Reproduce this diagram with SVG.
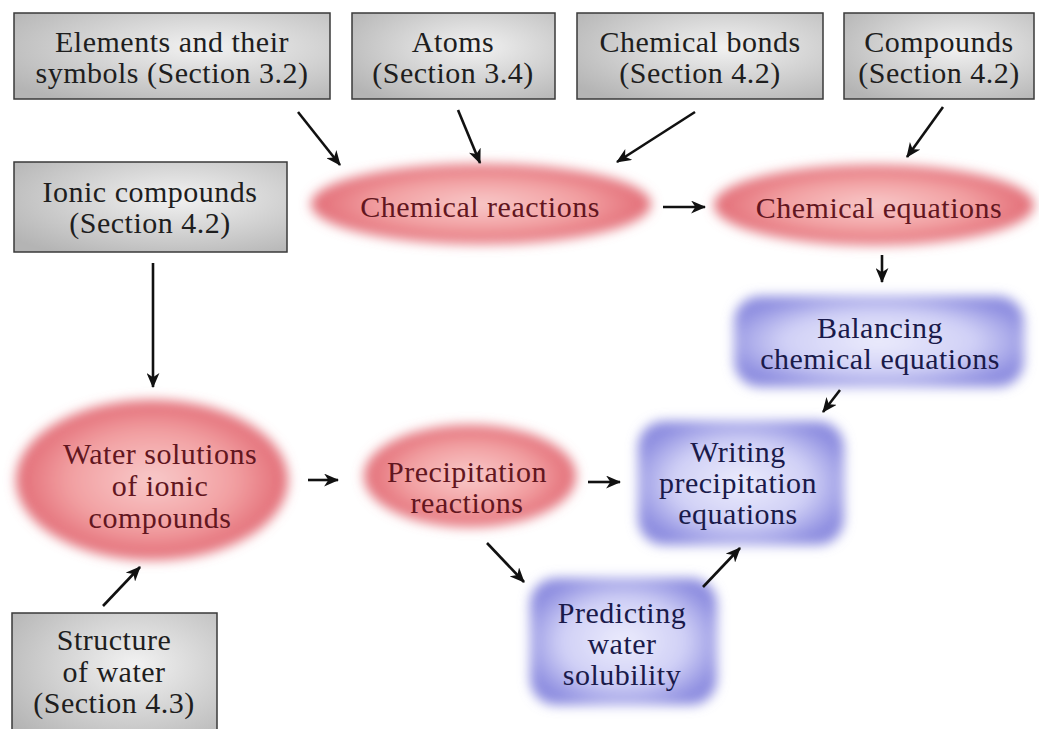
<svg xmlns="http://www.w3.org/2000/svg" width="1039" height="729" viewBox="0 0 1039 729">
  <style>
    text { font-family: "Liberation Serif", "Times New Roman", serif; font-size: 30px; text-anchor: middle; letter-spacing: 0.5px; }
    .gt { fill: #1e1e1e; }
    .rt { fill: #621620; }
    .bt { fill: #1a1a4a; }
    .gbox { fill: url(#gGray); stroke: #3a3a3a; stroke-width: 1.5; }
    .pink { fill: url(#gPink); filter: url(#soft); }
    .blue { fill: url(#gBlue); filter: url(#soft); }
    .arr { stroke: #111; stroke-width: 2.6; fill: none; marker-end: url(#ah); }
  </style>
  <defs>
    <radialGradient id="gGray" cx="0.6" cy="0.4" r="0.75">
      <stop offset="0" stop-color="#f2f2f2"/>
      <stop offset="1" stop-color="#b4b4b4"/>
    </radialGradient>
    <radialGradient id="gPink" cx="0.5" cy="0.5" r="0.5">
      <stop offset="0" stop-color="#f8caca"/>
      <stop offset="0.6" stop-color="#f2a0a2"/>
      <stop offset="1" stop-color="#e26c76"/>
    </radialGradient>
    <radialGradient id="gBlue" cx="0.5" cy="0.5" r="0.55">
      <stop offset="0" stop-color="#ececfc"/>
      <stop offset="0.6" stop-color="#d0d0f6"/>
      <stop offset="1" stop-color="#8e8ee0"/>
    </radialGradient>
    <filter id="soft" x="-20%" y="-30%" width="140%" height="160%">
      <feGaussianBlur stdDeviation="6"/>
    </filter>
    <marker id="ah" viewBox="0 0 14 12" refX="13" refY="6" markerWidth="15" markerHeight="13" orient="auto" markerUnits="userSpaceOnUse">
      <path d="M0,0 L14,6 L0,12 L4,6 z" fill="#111"/>
    </marker>
  </defs>

  <rect width="1039" height="729" fill="#ffffff"/>

  <g id="elements">
    <rect class="gbox" x="14" y="13" width="316" height="86"/>
    <text class="gt" x="172" y="52">Elements and their</text>
    <text class="gt" x="172" y="83">symbols (Section 3.2)</text>
  </g>
  <g id="atoms">
    <rect class="gbox" x="352" y="13" width="203" height="86"/>
    <text class="gt" x="453" y="52">Atoms</text>
    <text class="gt" x="453" y="83">(Section 3.4)</text>
  </g>
  <g id="bonds">
    <rect class="gbox" x="577" y="13" width="246" height="86"/>
    <text class="gt" x="700" y="52">Chemical bonds</text>
    <text class="gt" x="700" y="83">(Section 4.2)</text>
  </g>
  <g id="compounds">
    <rect class="gbox" x="844" y="13" width="190" height="86"/>
    <text class="gt" x="939" y="52">Compounds</text>
    <text class="gt" x="939" y="83">(Section 4.2)</text>
  </g>
  <g id="ionic">
    <rect class="gbox" x="14" y="162" width="273" height="90"/>
    <text class="gt" x="150" y="202">Ionic compounds</text>
    <text class="gt" x="150" y="233">(Section 4.2)</text>
  </g>
  <g id="structure">
    <rect class="gbox" x="12" y="613" width="205" height="130"/>
    <text class="gt" x="114" y="650">Structure</text>
    <text class="gt" x="114" y="682">of water</text>
    <text class="gt" x="114" y="713">(Section 4.3)</text>
  </g>

  <g id="reactions">
    <ellipse class="pink" cx="481" cy="204" rx="170" ry="40"/>
    <text class="rt" x="480" y="217">Chemical reactions</text>
  </g>
  <g id="equations">
    <ellipse class="pink" cx="874" cy="205" rx="160" ry="40"/>
    <text class="rt" x="879" y="218">Chemical equations</text>
  </g>
  <g id="water-solutions">
    <ellipse class="pink" cx="152" cy="480" rx="136" ry="80"/>
    <text class="rt" x="160" y="464">Water solutions</text>
    <text class="rt" x="160" y="496">of ionic</text>
    <text class="rt" x="160" y="528">compounds</text>
  </g>
  <g id="precipitation">
    <ellipse class="pink" cx="470" cy="476" rx="106" ry="51"/>
    <text class="rt" x="467" y="482">Precipitation</text>
    <text class="rt" x="467" y="513">reactions</text>
  </g>

  <g id="balancing">
    <rect class="blue" x="734" y="296" width="290" height="91" rx="26"/>
    <text class="bt" x="880" y="338">Balancing</text>
    <text class="bt" x="880" y="369">chemical equations</text>
  </g>
  <g id="writing">
    <rect class="blue" x="638" y="421" width="206" height="124" rx="26"/>
    <text class="bt" x="738" y="462">Writing</text>
    <text class="bt" x="738" y="493">precipitation</text>
    <text class="bt" x="738" y="524">equations</text>
  </g>
  <g id="predicting">
    <rect class="blue" x="530" y="578" width="187" height="127" rx="26"/>
    <text class="bt" x="622" y="623">Predicting</text>
    <text class="bt" x="622" y="654">water</text>
    <text class="bt" x="622" y="685">solubility</text>
  </g>

  <g id="connectors">
    <line class="arr" x1="298" y1="112" x2="340" y2="165"/>
    <line class="arr" x1="458" y1="110" x2="480" y2="163"/>
    <line class="arr" x1="695" y1="112" x2="617" y2="162"/>
    <line class="arr" x1="943" y1="107" x2="907" y2="157"/>
    <line class="arr" x1="663" y1="207" x2="705" y2="207"/>
    <line class="arr" x1="882" y1="255" x2="882" y2="282"/>
    <line class="arr" x1="840" y1="390" x2="823" y2="412"/>
    <line class="arr" x1="153" y1="263" x2="153" y2="387"/>
    <line class="arr" x1="308" y1="480" x2="338" y2="480"/>
    <line class="arr" x1="588" y1="482" x2="620" y2="482"/>
    <line class="arr" x1="487" y1="543" x2="524" y2="582"/>
    <line class="arr" x1="703" y1="587" x2="740" y2="548"/>
    <line class="arr" x1="103" y1="606" x2="140" y2="567"/>
  </g>
</svg>
